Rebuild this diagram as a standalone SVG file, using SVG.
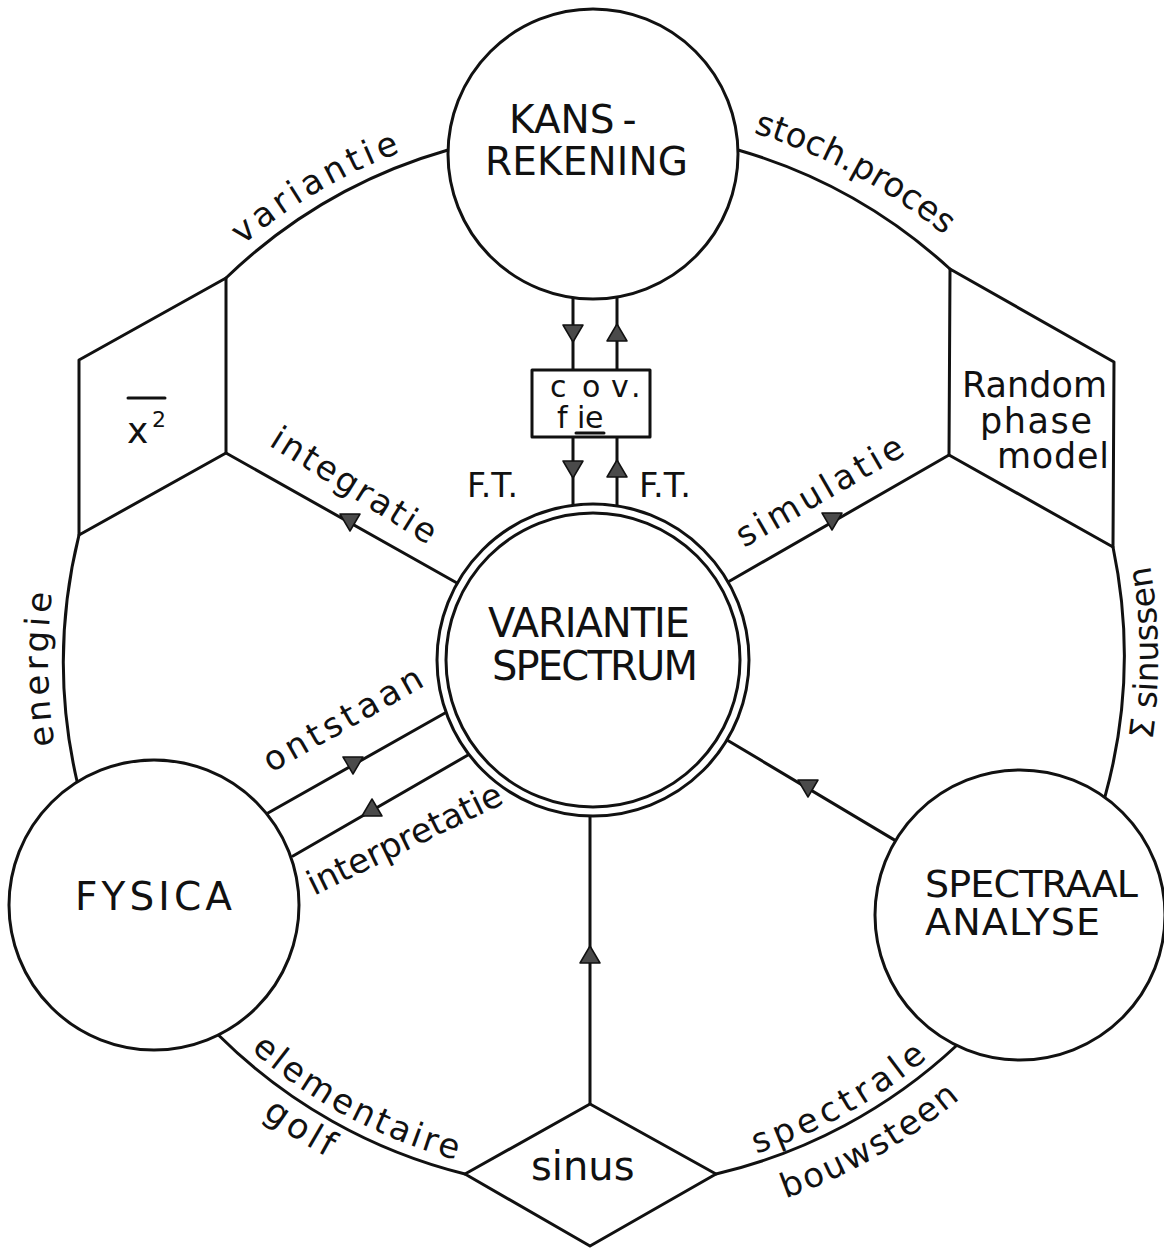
<svg xmlns="http://www.w3.org/2000/svg" width="1164" height="1248" viewBox="0 0 1164 1248">
<style>
.s{fill:none;stroke:#111;stroke-width:3;stroke-linecap:round;stroke-linejoin:round}
.n{fill:#fff;stroke:#111;stroke-width:3;stroke-linejoin:round}
.t{font-family:"DejaVu Sans","Liberation Sans",sans-serif;fill:#111}
.big{font-size:39px}
.lab{font-size:34px}
.arr{fill:#4a4a4a;stroke:#111;stroke-width:1.5;stroke-linejoin:round}
</style>
<defs>
<path id="td" d="M-10,-8 L10,-8 L0,9 Z"/>
<path id="tu" d="M0,-9 L10,8 L-10,8 Z"/>
<path id="p-var" d="M242.5,245.3 A543,543 0 0 1 498.7,125.3"/>
<path id="p-sto" d="M753.2,132.8 A551,551 0 0 1 1015.1,305.8"/>
<path id="p-ene" d="M54.7,745.3 A545,545 0 0 1 66.6,518.9"/>
<path id="p-sin" d="M1152.3,740 A565,565 0 0 0 1105.1,421.2"/>
<path id="p-ele" d="M250.8,1050 A518,518 0 0 0 547.8,1176"/>
<path id="p-gol" d="M262,1116 A564,564 0 0 0 400,1190"/>
<path id="p-spe" d="M756.3,1153.7 A520,520 0 0 0 991.3,994.3"/>
<path id="p-bou" d="M785.6,1198.5 A572,572 0 0 0 1031,1028"/>
</defs>
<rect width="1164" height="1248" fill="#fff"/>

<g id="connectors">
  <path class="s" d="M448,150 A530,530 0 0 0 226,278"/>
  <path class="s" d="M738,150 A530,530 0 0 1 950,269"/>
  <path class="s" d="M79,535 A530,530 0 0 0 77.2,782"/>
  <path class="s" d="M1113,547 A530,530 0 0 1 1104.8,797.3"/>
  <path class="s" d="M218.4,1035 A530,530 0 0 0 465,1174"/>
  <path class="s" d="M716,1174 A530,530 0 0 0 956.6,1045.5"/>
  <path class="s" d="M226,453 L457,583"/>
  <path class="s" d="M949,455 L728,582"/>
  <path class="s" d="M727,740 L895.5,840.6"/>
  <path class="s" d="M268,813 L445,713"/>
  <path class="s" d="M293,856 L468,755"/>
  <path class="s" d="M590,816 L590,1104"/>
  <path class="s" d="M573,298 L573,505"/>
  <path class="s" d="M617,298 L617,506"/>
  <use href="#td" class="arr" x="573" y="333"/>
  <use href="#tu" class="arr" x="617" y="333"/>
  <use href="#td" class="arr" x="573" y="469"/>
  <use href="#tu" class="arr" x="617" y="469"/>
  <use href="#td" class="arr" x="350" y="522"/>
  <use href="#td" class="arr" x="832" y="521"/>
  <use href="#td" class="arr" x="808" y="788"/>
  <use href="#td" class="arr" x="353" y="765"/>
  <use href="#tu" class="arr" x="372" y="808"/>
  <use href="#tu" class="arr" x="590" y="955"/>
</g>

<g id="labels" class="t lab">
  <text letter-spacing="4.2"><textPath href="#p-var">variantie</textPath></text>
  <text letter-spacing="0.2"><textPath href="#p-sto">stoch.proces</textPath></text>
  <text letter-spacing="4"><textPath href="#p-ene">energie</textPath></text>
  <text font-size="33"><textPath href="#p-sin">Σ sinussen</textPath></text>
  <text letter-spacing="3"><textPath href="#p-ele">elementaire</textPath></text>
  <text font-size="35" letter-spacing="4"><textPath href="#p-gol">golf</textPath></text>
  <text letter-spacing="5"><textPath href="#p-spe">spectrale</textPath></text>
  <text letter-spacing="2"><textPath href="#p-bou">bouwsteen</textPath></text>
  <text transform="translate(268,445) rotate(32)" letter-spacing="2.6">integratie</text>
  <text transform="translate(744,548) rotate(-30)" letter-spacing="4">simulatie</text>
  <text transform="translate(271,773) rotate(-29.5)" letter-spacing="4">ontstaan</text>
  <text transform="translate(314,896) rotate(-26)">interpretatie</text>
  <text x="467" y="497" textLength="51" lengthAdjust="spacingAndGlyphs">F.T.</text>
  <text x="639" y="497" textLength="52" lengthAdjust="spacingAndGlyphs">F.T.</text>
</g>

<g id="node-kansrekening">
  <circle class="n" cx="593" cy="154" r="145"/>
  <text class="t big" x="509" y="133">KANS<tspan dx="8">-</tspan></text>
  <text class="t big" x="485" y="175" textLength="203">REKENING</text>
</g>

<g id="node-covfie">
  <rect class="n" x="532" y="370" width="118" height="67"/>
  <text class="t" font-size="30" x="550 582 611 631" y="397">cov.</text>
  <text class="t" font-size="30" x="557 577 585" y="428">fie</text>
  <path class="s" d="M576,433 L604,433"/>
</g>

<g id="node-variantiespectrum">
  <circle class="n" cx="593" cy="660" r="156"/>
  <circle class="s" cx="593" cy="660" r="147"/>
  <text class="t" font-size="40" x="488" y="637" textLength="202">VARIANTIE</text>
  <text class="t" font-size="40" x="492" y="680" textLength="206">SPECTRUM</text>
</g>

<g id="node-x2">
  <path class="s" d="M226,278 L79,360 L79,535 L226,453 Z"/>
  <text class="t" font-size="36" x="127" y="443">x</text>
  <text class="t" font-size="22" x="152" y="427">2</text>
  <path class="s" d="M128,398 L165,398" stroke-width="2.5"/>
</g>

<g id="node-randomphase">
  <path class="s" d="M950,269 L1114,362 L1113,547 L949,455 Z"/>
  <text class="t" font-size="35" x="962" y="397" textLength="145">Random</text>
  <text class="t" font-size="35" x="980" y="433" textLength="112">phase</text>
  <text class="t" font-size="35" x="997" y="468" textLength="112">model</text>
</g>

<g id="node-fysica">
  <circle class="n" cx="154" cy="905" r="145"/>
  <text class="t big" x="75" y="910" textLength="157">FYSICA</text>
</g>

<g id="node-spectraal">
  <circle class="n" cx="1020" cy="915" r="145"/>
  <text class="t" font-size="38" x="925" y="897" textLength="213">SPECTRAAL</text>
  <text class="t" font-size="38" x="925" y="935" textLength="175">ANALYSE</text>
</g>

<g id="node-sinus">
  <path class="n" d="M590,1104 L716,1174 L590,1246 L465,1174 Z"/>
  <text class="t" font-size="40" x="531" y="1180">sinus</text>
</g>
</svg>
